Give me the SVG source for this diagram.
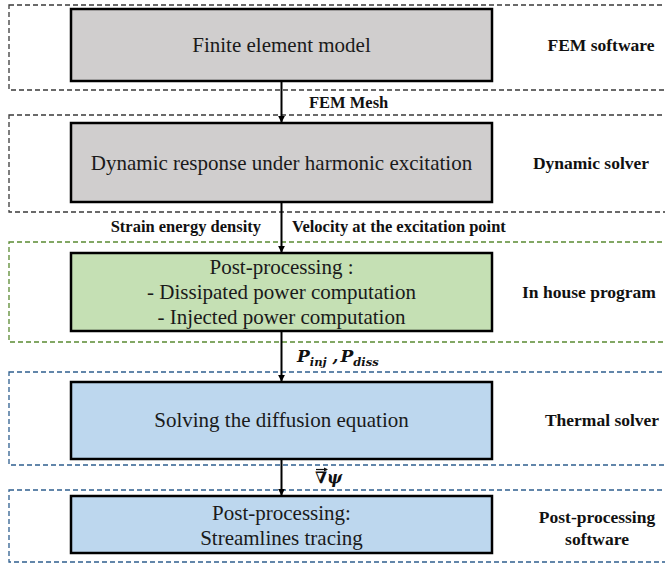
<svg xmlns="http://www.w3.org/2000/svg" width="665" height="565" viewBox="0 0 665 565">
<defs>
<style>
.grp{fill:none;stroke-width:1.3;stroke-dasharray:5,3}
.k{stroke:#3a3a3a}
.g{stroke:#5a8a32}
.b{stroke:#2f5f8f}
.node{stroke:#000;stroke-width:2.5}
.gray{fill:#d0cece}
.green{fill:#c5e0b4}
.blue{fill:#bdd7ee}
.nt{font-family:"Liberation Serif","Times New Roman",serif;font-size:21px;fill:#1a1a1a;text-anchor:middle}
.lb{font-family:"Liberation Serif","Times New Roman",serif;font-size:16.5px;font-weight:bold;fill:#111}
.rl{font-size:17.5px}
.mid{text-anchor:middle}
.conn{stroke:#000;stroke-width:2;fill:none}
.math{font-family:"DejaVu Serif","Liberation Serif",serif;font-weight:bold;font-style:italic;fill:#111}
</style>
<marker id="ah" viewBox="0 0 10 10" refX="9" refY="5" markerWidth="3.5" markerHeight="3.5" orient="auto" markerUnits="strokeWidth">
<path d="M0,0 L10,5 L0,10 z" fill="#000"/>
</marker>
</defs>

<g id="group-fem">
<rect class="grp k" x="9" y="5" width="665" height="85"/>
<text class="lb rl mid" x="601" y="51">FEM software</text>
</g>
<g id="group-dyn">
<rect class="grp k" x="9" y="115" width="665" height="97"/>
<text class="lb rl mid" x="591" y="169">Dynamic solver</text>
</g>
<g id="group-house">
<rect class="grp g" x="9" y="242" width="665" height="100"/>
<text class="lb rl mid" x="589" y="298">In house program</text>
</g>
<g id="group-thermal">
<rect class="grp b" x="9" y="372" width="665" height="93"/>
<text class="lb rl mid" x="602" y="426">Thermal solver</text>
</g>
<g id="group-post">
<rect class="grp b" x="9" y="490" width="665" height="72"/>
<text class="lb rl mid" x="597" y="523">Post-processing</text>
<text class="lb rl mid" x="597" y="545">software</text>
</g>

<g id="node-fem">
<rect class="node gray" x="71" y="9" width="421" height="72"/>
<text class="nt" x="281.5" y="52">Finite element model</text>
</g>
<g id="node-dyn">
<rect class="node gray" x="71" y="123" width="421" height="79"/>
<text class="nt" x="281.5" y="170">Dynamic response under harmonic excitation</text>
</g>
<g id="node-post1">
<rect class="node green" x="71" y="253" width="421" height="78"/>
<text class="nt" x="281.5" y="274">Post-processing :</text>
<text class="nt" x="281.5" y="299">- Dissipated power computation</text>
<text class="nt" x="281.5" y="324">- Injected power computation</text>
</g>
<g id="node-thermal">
<rect class="node blue" x="71" y="382" width="421" height="77"/>
<text class="nt" x="281.5" y="427">Solving the diffusion equation</text>
</g>
<g id="node-post2">
<rect class="node blue" x="71" y="496" width="421" height="57"/>
<text class="nt" x="281.5" y="520">Post-processing:</text>
<text class="nt" x="281.5" y="545">Streamlines tracing</text>
</g>

<g id="connectors">
<line class="conn" x1="281.5" y1="81" x2="281.5" y2="122" marker-end="url(#ah)"/>
<line class="conn" x1="281.5" y1="202" x2="281.5" y2="252" marker-end="url(#ah)"/>
<line class="conn" x1="281.5" y1="331" x2="281.5" y2="381" marker-end="url(#ah)"/>
<line class="conn" x1="281.5" y1="459" x2="281.5" y2="495" marker-end="url(#ah)"/>
<text class="lb" x="309" y="108">FEM Mesh</text>
<text class="lb" x="261" y="232" text-anchor="end">Strain energy density</text>
<text class="lb" x="292" y="232">Velocity at the excitation point</text>
<text class="math" x="297" y="362" font-size="17">P<tspan font-size="11.5" dy="4">inj</tspan><tspan dy="-4" font-size="17"> ,</tspan><tspan dx="2">P</tspan><tspan font-size="11.5" dy="4">diss</tspan></text>
<text class="math" x="315" y="483" font-size="16" font-style="normal">∇<tspan font-style="italic">ψ</tspan></text>
<path d="M316,469.5 H327" stroke="#111" stroke-width="1.2"/>
<path d="M324,467.5 L328,469.5 L324,471.5 z" fill="#111"/>
</g>
</svg>
